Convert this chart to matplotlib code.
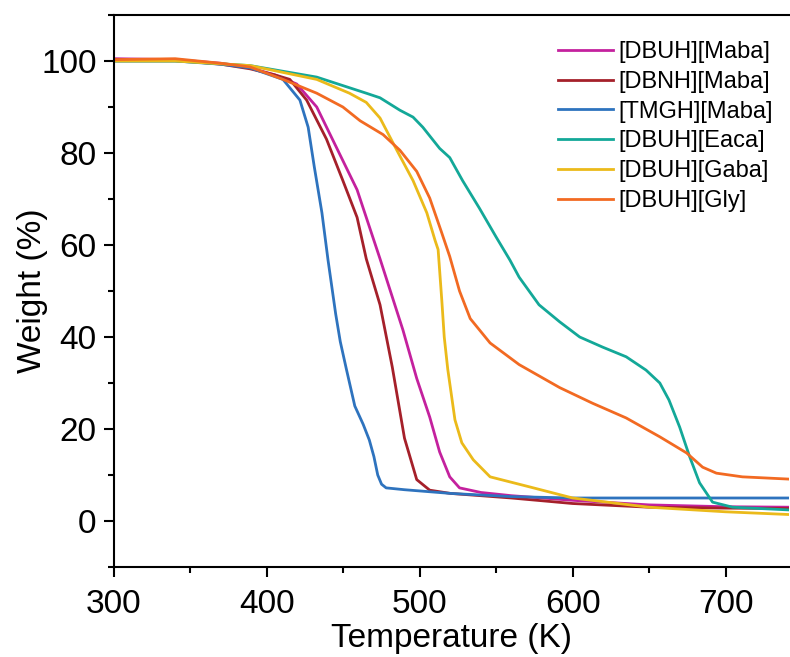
import matplotlib
matplotlib.use('Agg')
import matplotlib.pyplot as plt
from matplotlib.ticker import MultipleLocator

plt.rcParams['font.family'] = ['Liberation Sans', 'DejaVu Sans']

# 데이터
t_dbuh_maba = [300, 340, 370, 389, 405, 419.5, 432.6, 445.8, 459, 467, 474, 489, 498, 506.5, 513, 519.6, 526, 540, 560, 600, 650, 700, 742]
w_dbuh_maba = [100.5, 100.3, 99.5, 98.5, 97, 95, 90, 81, 72, 64, 57, 41.5, 31, 22.6, 15, 9.6, 7.2, 6.2, 5.5, 4.5, 3.5, 3.1, 3.0]

t_dbnh_maba = [300, 340, 370, 389, 405, 415, 426, 439, 449.7, 459, 465, 474, 482, 490, 498, 506.5, 520, 560, 600, 650, 700, 742]
w_dbnh_maba = [100.3, 100.2, 99.3, 98.3, 97, 96, 91.5, 83, 74, 66, 57, 47, 33.5, 18, 9, 6.7, 6.0, 5.0, 3.8, 3.0, 2.8, 2.7]

t_tmgh_maba = [300, 340, 370, 389, 410.5, 421.6, 427, 431, 436, 440, 445, 448, 452, 457.5, 463, 467, 470, 472.5, 475, 478, 490, 520, 560, 600, 742]
w_tmgh_maba = [100, 100, 99.3, 98.5, 96, 91.5, 85.6, 77, 67, 56.7, 45, 39, 33, 25, 21, 17.6, 14, 10, 8, 7.2, 6.8, 6.0, 5.3, 5.0, 5.0]

t_dbuh_eaca = [300, 340, 389, 432.6, 465, 474, 487, 495.6, 502, 513, 519.6, 528, 539, 550, 559, 565, 578, 591.5, 604.6, 619.6, 635, 648, 657, 663, 670, 676.5, 683, 691.5, 704.6, 742]
w_dbuh_eaca = [100, 100, 99, 96.5, 93, 92, 89.3, 87.8, 85.6, 81, 79, 74, 68, 61.7, 56.7, 53, 47, 43.3, 40, 37.8, 35.7, 32.8, 30, 26.3, 20.4, 14, 8.3, 4.1, 3.0, 2.4]

t_dbuh_gaba = [300, 340, 389, 432.6, 454, 465, 474, 485, 495.6, 504.6, 510, 512, 514.4, 516, 518.3, 523, 527.5, 535, 546, 572, 600, 650, 700, 742]
w_dbuh_gaba = [100, 100, 99, 96, 93, 91, 87.6, 80.6, 74, 67, 61, 59, 48, 40, 33, 22, 17, 13.3, 9.6, 7.4, 5.0, 3.0, 2.0, 1.4]

t_dbuh_gly = [300, 340, 370, 389, 410.5, 432.6, 449.7, 461, 476, 487, 498, 506.5, 514, 519.6, 526, 533, 546, 565, 591.5, 613, 635, 657, 674.5, 685, 694, 711, 742]
w_dbuh_gly = [100.3, 100.5, 99.5, 98.7, 96, 93, 90, 87, 84, 80.6, 76, 70.2, 63, 57.5, 50, 44, 38.7, 34, 29, 25.6, 22.4, 18.3, 14.8, 11.7, 10.4, 9.6, 9.1]

series = [
    ('[DBUH][Maba]', t_dbuh_maba, w_dbuh_maba, '#C4219E'),
    ('[DBNH][Maba]', t_dbnh_maba, w_dbnh_maba, '#A5202A'),
    ('[TMGH][Maba]', t_tmgh_maba, w_tmgh_maba, '#2E73BE'),
    ('[DBUH][Eaca]', t_dbuh_eaca, w_dbuh_eaca, '#13A898'),
    ('[DBUH][Gaba]', t_dbuh_gaba, w_dbuh_gaba, '#EBBA1A'),
    ('[DBUH][Gly]', t_dbuh_gly, w_dbuh_gly, '#F26A22'),
]

W, H = 790, 657
fig = plt.figure(figsize=(W / 100, H / 100), dpi=100)
ax = fig.add_axes([114 / W, 1 - 567 / H, (789 - 114) / W, (567 - 15) / H])

for name, t, w, c in series:
    ax.plot(t, w, color=c, lw=2.0, label=name)

ax.set_xlim(300, 741.5)
ax.set_ylim(-10, 110)
ax.xaxis.set_major_locator(MultipleLocator(100))
ax.xaxis.set_minor_locator(MultipleLocator(50))
ax.yaxis.set_major_locator(MultipleLocator(20))
ax.yaxis.set_minor_locator(MultipleLocator(10))
ax.tick_params(which='both', direction='out', width=1.5, labelsize=24, right=False, top=False)
ax.tick_params(which='major', length=7.5)
ax.tick_params(axis='x', which='major', pad=8.5)
ax.tick_params(axis='y', which='major', pad=5)
ax.tick_params(which='minor', length=4.5)
ax.spines['right'].set_visible(False)
for s in ax.spines.values():
    s.set_linewidth(1.5)

ax.set_xlabel('Temperature (K)', fontsize=24, labelpad=2)
ax.set_ylabel('Weight (%)', fontsize=24, labelpad=-5)

ax.legend(loc='upper left', bbox_to_anchor=(558 / W, 1 - 41 / H), bbox_transform=fig.transFigure,
          frameon=False, fontsize=17, handlelength=2.33, labelspacing=0.33,
          handletextpad=0.22, borderpad=0, borderaxespad=0)

fig.savefig('out.png', dpi=100)
